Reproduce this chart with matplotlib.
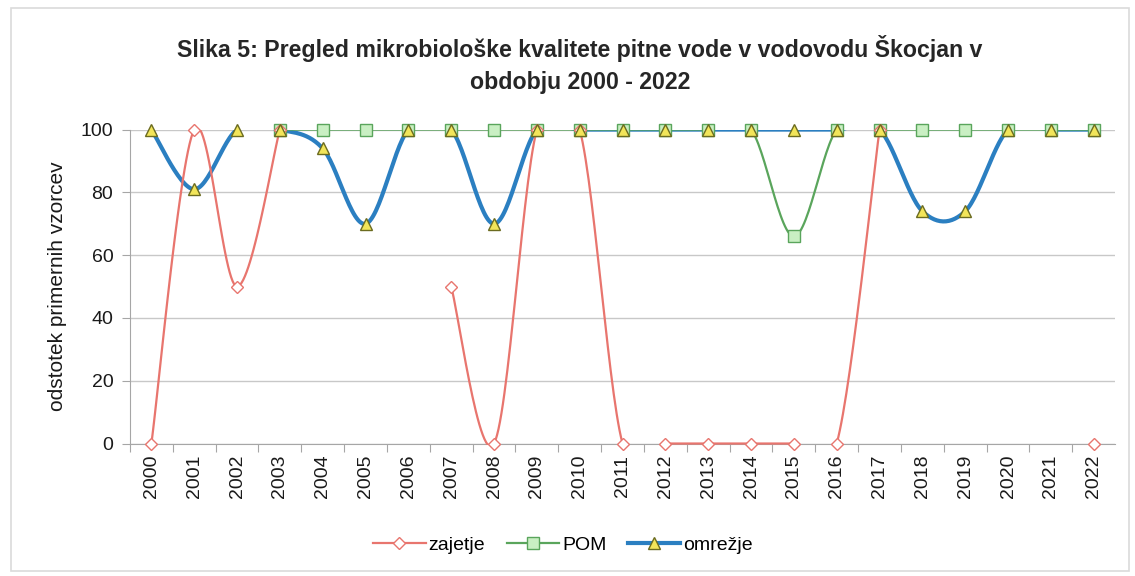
import numpy as np
import matplotlib
matplotlib.use("Agg")
import matplotlib.pyplot as plt
from matplotlib.patches import Rectangle
from matplotlib.lines import Line2D

# ─── Data ────────────────────────────────────────────────────────────────────
years = list(range(2000, 2023))
nan = np.nan
zajetje = [0, 100, 50, 100, nan, nan, nan, 50, 0, 100, 100, 0,
           0, 0, 0, 0, 0, 100, nan, nan, nan, nan, 0]
pom = [nan, nan, nan, 100, 100, 100, 100, 100, 100, 100, 100, 100,
       100, 100, 100, 66, 100, 100, 100, 100, 100, 100, 100]
omrezje = [100, 81, 100, 100, 94, 70, 100, 100, 70, 100, 100, 100,
           100, 100, 100, 100, 100, 100, 74, 74, 100, 100, 100]

title = "Slika 5: Pregled mikrobiološke kvalitete pitne vode v vodovodu Škocjan v\nobdobju 2000 - 2022"
ylabel = "odstotek primernih vzorcev"
names = ["zajetje", "POM", "omrežje"]

# ─── Palette ─────────────────────────────────────────────────────────────────
RED = "#e8756e"
GREEN = "#5aa55c"
BLUE = "#2b7fc1"
GRID = "#c8c8c8"
AXIS = "#a6a6a6"
TEXT = "#1a1a1a"

plt.rcParams["font.family"] = ["Liberation Sans", "DejaVu Sans"]


def smooth_runs(xs, ys, n=30):
    """Excel-style smoothed line: cubic Bezier per segment, per contiguous run."""
    xs = np.asarray(xs, float)
    ys = np.asarray(ys, float)
    runs, cur = [], []
    for x, y in zip(xs, ys):
        if np.isnan(y):
            if cur:
                runs.append(cur)
            cur = []
        else:
            cur.append((x, y))
    if cur:
        runs.append(cur)
    out = []
    t = np.linspace(0, 1, n)[:, None]
    for run in runs:
        p = np.array(run)
        if len(p) == 1:
            continue
        pts = [p[0]]
        for i in range(len(p) - 1):
            p0 = p[i - 1] if i > 0 else p[i]
            p1, p2 = p[i], p[i + 1]
            p3 = p[i + 2] if i + 2 < len(p) else p[i + 1]
            c1 = p1 + (p2 - p0) / 6
            c2 = p2 - (p3 - p1) / 6
            seg = ((1 - t) ** 3 * p1 + 3 * (1 - t) ** 2 * t * c1
                   + 3 * (1 - t) * t ** 2 * c2 + t ** 3 * p2)
            pts.extend(seg[1:])
        out.append(np.array(pts))
    return out


fig = plt.figure(figsize=(11.35, 5.76), dpi=100, facecolor="white")
fig.patches.append(Rectangle((0.01, 0.008), 0.985, 0.978, transform=fig.transFigure,
                             fill=False, ec="#dadada", lw=1.2))

ax = fig.add_axes([0.1145, 0.23, 0.868, 0.545])
x = np.arange(len(years))

ax.set_xlim(-0.5, len(years) - 0.5)
ax.set_ylim(0, 100)
ax.set_yticks(range(0, 101, 20))
ax.yaxis.grid(True, color=GRID, lw=1)
ax.set_axisbelow(True)
for side in ("top", "right"):
    ax.spines[side].set_visible(False)
for side in ("left", "bottom"):
    ax.spines[side].set_color(AXIS)
ax.tick_params(axis="y", length=6, color=AXIS, labelsize=14, labelcolor=TEXT, pad=6)

# categories sit between the tick marks
ax.set_xticks(x - 0.5, minor=False)
ax.set_xticklabels([])
ax.set_xticks(x, minor=True)
ax.set_xticklabels([str(y) for y in years], minor=True, rotation=90)
ax.tick_params(axis="x", which="major", length=6, color=AXIS)
ax.tick_params(axis="x", which="minor", length=0, labelsize=14, labelcolor=TEXT, pad=8)
ax.set_ylabel(ylabel, fontsize=15, color=TEXT, labelpad=10)

# lines at 100 only show their lower half, dips below 0 vanish
clip = Rectangle((-0.5, -0.6), len(years), 100.6, transform=ax.transData)

series = [
    (omrezje, BLUE, "^", "#f2e55a", "#6b6b20", 3.0, 8.5, 3),
    (pom, GREEN, "s", "#c9efc3", GREEN, 1.6, 8, 4),
    (zajetje, RED, "D", "white", RED, 1.6, 6, 5),
]
handles = {}
for (vals, col, mk, fc, ec, lw, ms, z), name in zip(series, ["omrežje", "POM", "zajetje"]):
    for seg in smooth_runs(x, vals):
        ln, = ax.plot(seg[:, 0], seg[:, 1], color=col, lw=lw, zorder=z)
        ln.set_clip_path(clip)
    ax.plot(x, vals, ls="none", marker=mk, ms=ms, mfc=fc, mec=ec, mew=1.0,
            zorder=7 if mk == "^" else 6, clip_on=False)
    handles[name] = Line2D([], [], color=col, lw=lw, marker=mk, ms=ms,
                           mfc=fc, mec=ec, mew=1.0)

fig.legend([handles[n] for n in names], names, loc="center",
           bbox_to_anchor=(0.496, 0.054), ncol=3, frameon=False,
           fontsize=14, handlelength=2.7, handletextpad=0.15, columnspacing=1.1)

fig.text(0.511, 0.94, title, ha="center", va="top", fontsize=16.7,
         fontweight="bold", color="#262626", linespacing=1.5)

fig.savefig("out.png", dpi=100, facecolor="white")
